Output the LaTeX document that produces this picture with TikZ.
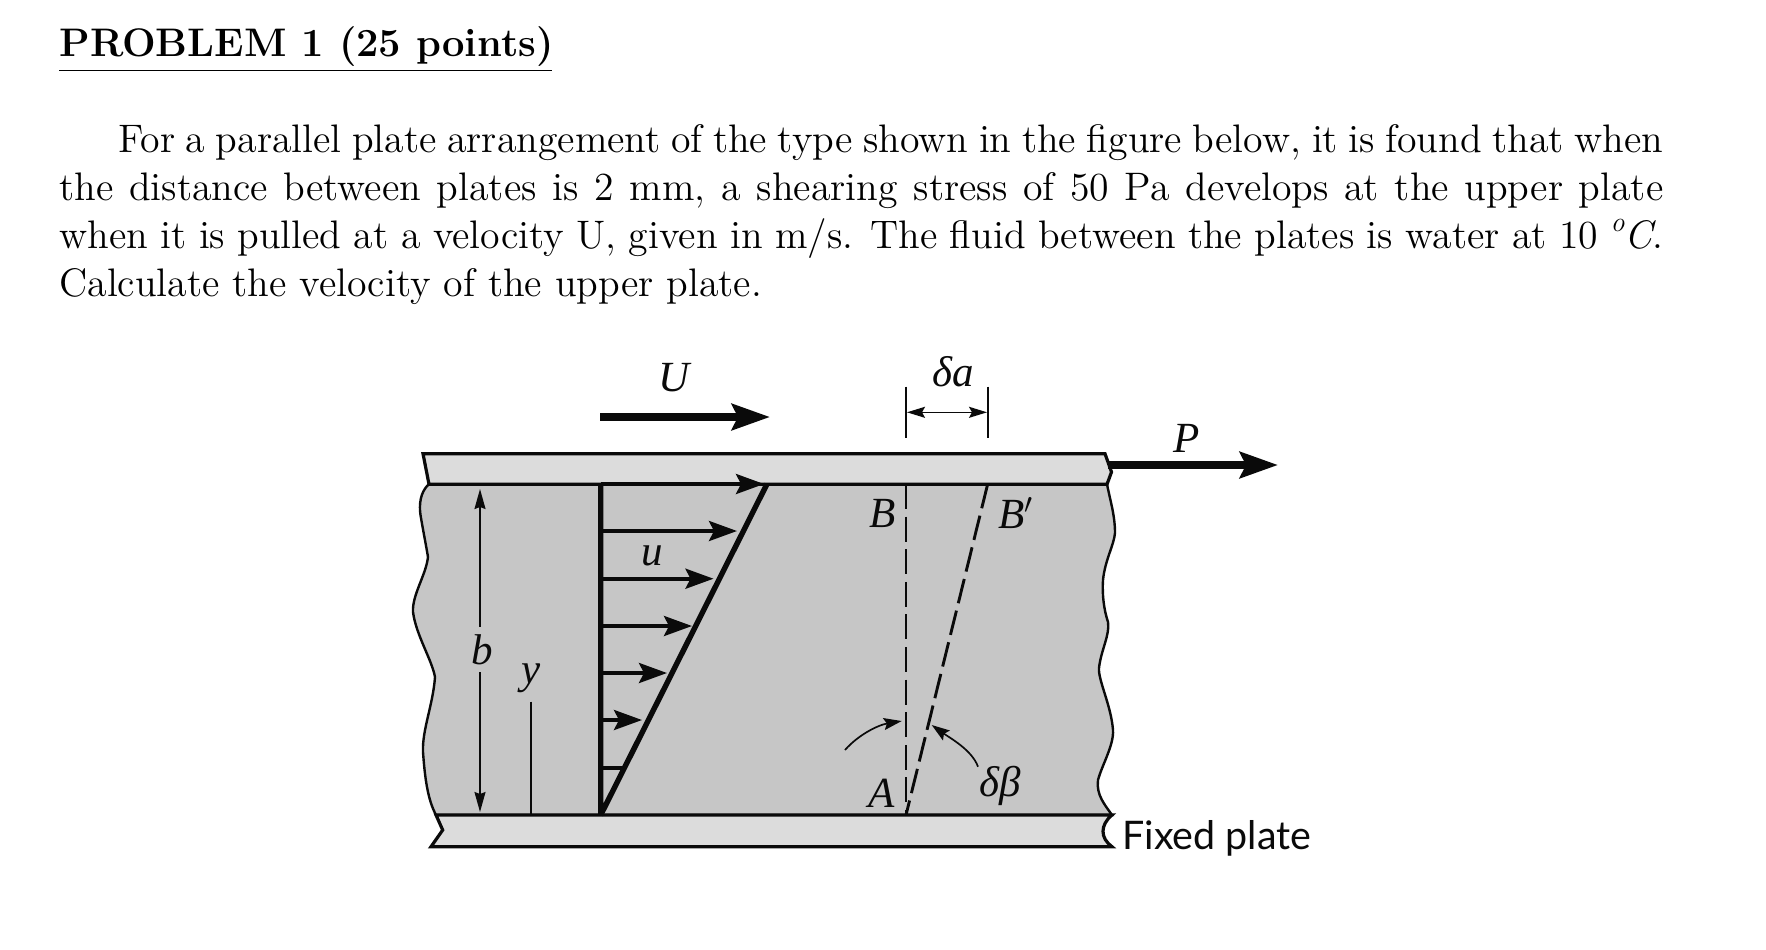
\documentclass[tikz,border=0pt]{standalone}
\usepackage{fontspec}
\usepackage{amsmath}
\usetikzlibrary{arrows.meta}
\newfontfamily\labfont{Liberation Serif}
\newfontfamily\platefont{Lato}
\newfontfamily\bodyfnt{lmroman12-regular.otf}
\newfontfamily\bodyitfnt{lmroman12-italic.otf}
\definecolor{fluidgray}{HTML}{C6C6C6}
\definecolor{plategray}{HTML}{DCDCDC}
\definecolor{ink}{HTML}{0A0A0A}
\tikzset{
  platebox/.style={draw=ink,line width=1.6pt,fill=plategray,line join=miter},
  fluidbox/.style={draw=ink,line width=1.2pt,fill=fluidgray},
  veloarrow/.style={draw=ink,line width=1.9pt,-{Stealth[length=14pt,width=10pt,inset=2.5pt]}},
  bigarrow/.style={draw=ink,line width=3.8pt,-{Stealth[length=19pt,width=13pt,inset=3pt]}},
  thinline/.style={draw=ink,line width=.8pt},
  dimarrow/.style={draw=ink,line width=.8pt,{Stealth[length=9pt,width=5.5pt,inset=1.5pt]}-{Stealth[length=9pt,width=5.5pt,inset=1.5pt]}},
  curvearrow/.style={draw=ink,line width=.85pt,-{Stealth[length=9pt,width=6pt,inset=1.5pt]}},
  dashline/.style={draw=ink,line width=1.45pt,dash pattern=on 12.5pt off 3.8pt},
  lab/.style={inner sep=0pt,font=\labfont\itshape\fontsize{21.5}{22}\selectfont,text=ink},
}
\begin{document}
\begin{tikzpicture}[x=0.5pt,y=-0.5pt]
\useasboundingbox (0,0) rectangle (1766,949);
% text
\node[anchor=base west,inner sep=0pt,font=\bfseries\fontsize{19.93}{24}\selectfont] (title) at (59,56) {PROBLEM 1 (25 points)};
\coordinate (ulL) at (59,70.5);
\coordinate (ulR) at (552,70.5);
\draw[line width=.6pt] (ulL) -- (ulR);
\node[anchor=north west,inner sep=0pt,text width=802pt,align=justify,font=\bodyfnt\fontsize{19.9}{24}\selectfont] (body) at (59,124) {\setlength{\parindent}{29.5pt}\setlength{\baselineskip}{24pt}\indent For a parallel plate arrangement of the type shown in the figure below, it is found that when\linebreak the distance between plates is 2 mm, a shearing stress of 50 Pa develops at the upper plate\linebreak when it is pulled at a velocity U, given in m/s. The fluid between the plates is water at 10 \raisebox{.42em}{\bodyitfnt\fontsize{14}{14}\selectfont o}{\bodyitfnt C}.\linebreak Calculate the velocity of the upper plate.};
% fluid
\draw[fluidbox] (429,484) .. controls (420,492) and (419,505) .. (420.5,515)
  .. controls (423,530) and (426,545) .. (428,557)
  .. controls (426,575) and (412,595) .. (413,612)
  .. controls (416,635) and (432,660) .. (435,677)
  .. controls (433,705) and (422,730) .. (423,752)
  .. controls (425,780) and (428,800) .. (436,815)
  -- (1112,815)
  .. controls (1105,805) and (1096,795) .. (1098,780)
  .. controls (1102,765) and (1114,745) .. (1113,730)
  .. controls (1111,705) and (1098,680) .. (1099,668)
  .. controls (1101,650) and (1110,635) .. (1108,622)
  .. controls (1104,610) and (1102,595) .. (1103,580)
  .. controls (1105,560) and (1114,545) .. (1115,533)
  .. controls (1115,515) and (1110,500) .. (1107,484)
  -- cycle;
% plates
\draw[platebox] (423,453.7) -- (1105,453.7) -- (1111.5,472) -- (1107,484.3) -- (429,484.3) -- cycle;
\draw[platebox] (436,815) -- (1112,815) .. controls (1100,825) and (1100,838) .. (1112,846.7) -- (431,846.7) -- (442.7,830) -- cycle;
% profile
\coordinate (O) at (600.7,815);
\coordinate (T) at (600.7,484);
\coordinate (D) at (767,484);
\foreach \n/\yy/\xx in {a/484/764,b/531/737,c/578.7/713.5,d/626/692,e/673/667,f/720/642}{
  \coordinate (s\n) at (600.7,\yy);
  \coordinate (t\n) at (\xx,\yy);
  \draw[veloarrow] (s\n) -- (t\n);
}
\coordinate (sg) at (600.7,767.7);
\coordinate (tg) at (622,767.7);
\draw[draw=ink,line width=1.9pt] (sg) -- (tg);
\draw[draw=ink,line width=2.7pt,line cap=butt,line join=bevel] (D) -- (O) -- (T);
% U, P
\coordinate (U1) at (600,417);
\coordinate (U2) at (770,417);
\draw[bigarrow] (U1) -- (U2);
\coordinate (P1) at (1108,465);
\coordinate (P2) at (1278,465);
\draw[bigarrow] (P1) -- (P2);
% b, y
\coordinate (b1) at (480,489);
\coordinate (b2) at (480,627);
\coordinate (b3) at (480,672);
\coordinate (b4) at (480,812);
\draw[thinline,{Stealth[length=10pt,width=5.5pt,inset=1pt]}-] (b1) -- (b2);
\draw[thinline,-{Stealth[length=10pt,width=5.5pt,inset=1pt]}] (b3) -- (b4);
\coordinate (y1) at (530.7,701.7);
\coordinate (y2) at (530.7,815);
\draw[thinline] (y1) -- (y2);
% delta a
\coordinate (t1a) at (906,386.7);
\coordinate (t1b) at (906,437.7);
\coordinate (t2a) at (987.7,386.7);
\coordinate (t2b) at (987.7,437.7);
\draw[thinline] (t1a) -- (t1b);
\draw[thinline] (t2a) -- (t2b);
\coordinate (da1) at (907,412.3);
\coordinate (da2) at (987,412.3);
\draw[dimarrow] (da1) -- (da2);
% dashed lines
\coordinate (A) at (906,815);
\coordinate (B) at (906,484);
\coordinate (Bp) at (987.7,484);
\draw[dashline] (B) -- (A);
\draw[dashline] (Bp) -- (A);
% delta beta arcs
\coordinate (c1) at (845,750);
\coordinate (c2) at (901.7,721);
\draw[curvearrow] (c1) .. controls (858,735) and (878,725) .. (c2);
\coordinate (c3) at (978,766.7);
\coordinate (c4) at (931.7,725);
\draw[curvearrow] (c3) .. controls (972,750) and (950,738) .. (c4);
% labels
\node[lab] (lU) at (674,378) {U};
\node[lab] (lu) at (652.7,556) {u};
\node[lab] (lb) at (482.7,650) {b};
\node[lab] (ly) at (531,678) {y};
\node[lab] (lB) at (882.7,513) {B};
\node[lab] (lBp) at (1016,513) {B$'$};
\node[lab] (lA) at (882,793) {A};
\node[lab] (lda) at (953,372) {δa};
\node[lab] (ldb) at (1000,786) {δβ};
\node[lab] (lP) at (1187,438) {P};
\node[anchor=base west,inner sep=0pt,font=\platefont\fontsize{19.7}{20}\selectfont,text=ink] (fp) at (1122,849) {Fixed plate};
\end{tikzpicture}
\end{document}
